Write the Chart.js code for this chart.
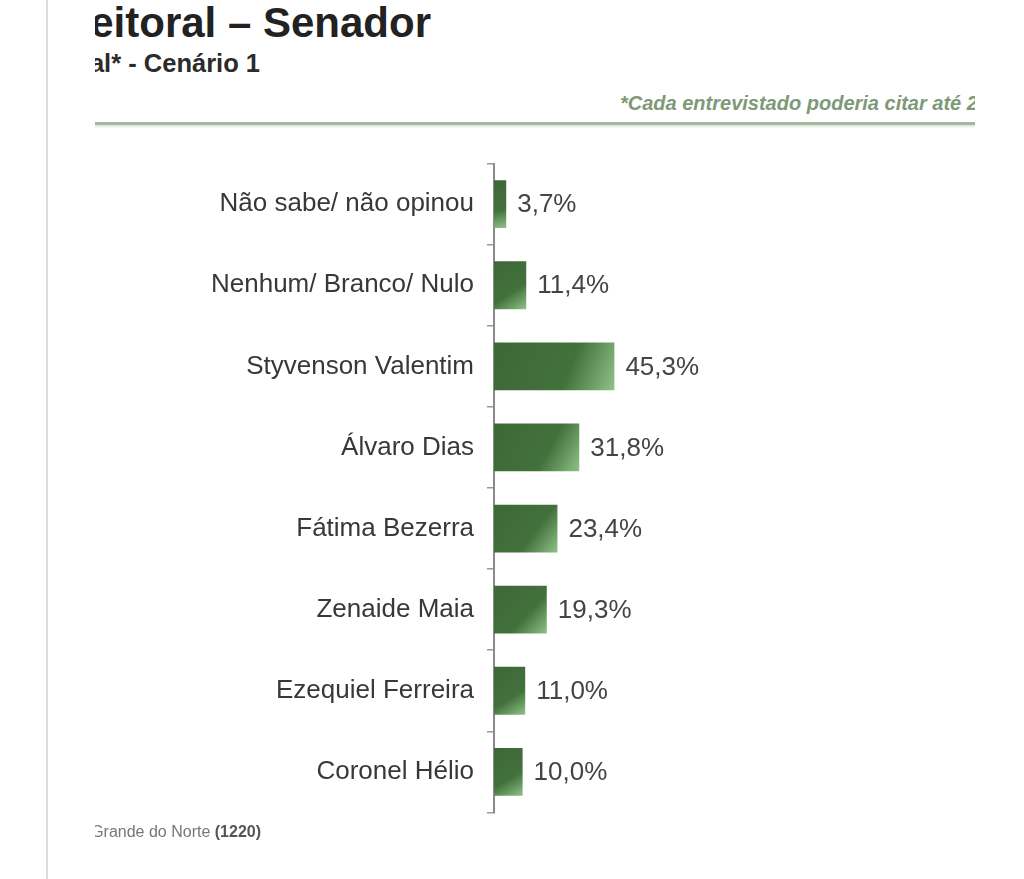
<!DOCTYPE html>
<html lang="pt-BR">
<head>
<meta charset="utf-8">
<title>Pesquisa Eleitoral – Senador</title>
<script src="https://cdn.jsdelivr.net/npm/chart.js@4/dist/chart.umd.min.js"></script>
<style>
  html, body { margin: 0; padding: 0; background: #fff; }
  body { width: 1024px; height: 879px; position: relative; overflow: hidden; font-family: "Liberation Sans", Arial, sans-serif; }
  .edge { position: absolute; left: 46px; top: 0; width: 2px; height: 879px; background: #dcdcdc; }
  .clip { position: absolute; overflow: hidden; white-space: nowrap; }
  .clip span { position: absolute; top: 0; line-height: 1; }
  #title { left: 95px; top: 2px; width: 336px; height: 48px; }
  #title span { right: 0; font-size: 42px; font-weight: bold; color: #222; }
  #subtitle { left: 95px; top: 51px; width: 165px; height: 30px; }
  #subtitle span { right: 0; font-size: 25.5px; font-weight: bold; color: #2b2b2b; }
  #note { left: 560px; top: 93px; width: 415px; height: 26px; }
  #note span { left: 60px; font-size: 20px; font-weight: bold; font-style: italic; color: #7e9978; }
  .rule { position: absolute; left: 95px; top: 122px; width: 880px; height: 3px; background: #a4b89f; box-shadow: 0 2px 2px rgba(160, 185, 155, 0.35); }
  #source { left: 95px; top: 824px; width: 166px; height: 20px; }
  #source span { right: 0; font-size: 16px; color: #777; }
  #source b { color: #555; }
  #chart { position: absolute; left: 95px; top: 135px; }
</style>
</head>
<body>
<div class="edge"></div>
<div class="clip" id="title"><span>Pesquisa Eleitoral – Senador</span></div>
<div class="clip" id="subtitle"><span>Voto Nominal* - Cenário 1</span></div>
<div class="clip" id="note"><span>*Cada entrevistado poderia citar até 2 nomes</span></div>
<div class="rule"></div>
<canvas id="chart" width="880" height="706" style="width:880px;height:706px"></canvas>
<div class="clip" id="source"><span>Base: Eleitores do Rio Grande do Norte <b>(1220)</b></span></div>

<script>
const categories = [
  "Não sabe/ não opinou",
  "Nenhum/ Branco/ Nulo",
  "Styvenson Valentim",
  "Álvaro Dias",
  "Fátima Bezerra",
  "Zenaide Maia",
  "Ezequiel Ferreira",
  "Coronel Hélio",
];
const percentages = [3.7, 11.4, 45.3, 31.8, 23.4, 19.3, 11.0, 10.0];
const valueLabels = percentages.map((v) => `${v.toFixed(1).replace(".", ",")}%`);

const labelFont = "'Liberation Sans', Arial, sans-serif";

const barFill = (context) => {
  const chart = context.chart;
  const xs = chart.scales.x;
  const ys = chart.scales.y;
  if (!chart.chartArea || !xs || !ys || context.dataIndex === undefined) {
    return "#426f3c";
  }
  const value = percentages[context.dataIndex];
  const x0 = xs.getPixelForValue(xs.min);
  const x1 = xs.getPixelForValue(value);
  const yc = ys.getPixelForValue(context.dataIndex);
  const gradient = chart.ctx.createLinearGradient(x0, yc - 24, x1, yc + 24);
  gradient.addColorStop(0, "#3c6836");
  gradient.addColorStop(0.62, "#43713c");
  gradient.addColorStop(1, "#8fc288");
  return gradient;
};

const valueLabelPlugin = {
  id: "valueLabels",
  afterDatasetsDraw(chart) {
    const { ctx } = chart;
    const meta = chart.getDatasetMeta(0);
    ctx.save();
    ctx.font = `26px ${labelFont}`;
    ctx.fillStyle = "#444";
    ctx.textAlign = "left";
    ctx.textBaseline = "middle";
    meta.data.forEach((bar, i) => {
      ctx.fillText(valueLabels[i], bar.x + 11, bar.y + 1);
    });
    ctx.restore();
  },
};

const config = {
  type: "bar",
  data: {
    labels: categories,
    datasets: [
      {
        data: percentages,
        base: -1,
        backgroundColor: barFill,
        borderWidth: 0,
        barPercentage: 0.59,
        categoryPercentage: 1,
      },
    ],
  },
  options: {
    indexAxis: "y",
    responsive: false,
    devicePixelRatio: 1,
    animation: false,
    layout: { padding: 0 },
    plugins: {
      legend: { display: false },
      tooltip: { enabled: false },
    },
    scales: {
      x: {
        display: false,
        min: -1,
        max: 184,
      },
      y: {
        afterFit: (scale) => {
          scale.width = 399;
        },
        grid: {
          offset: true,
          drawOnChartArea: false,
          drawTicks: true,
          tickLength: 7,
          color: "#9a9a9a",
          lineWidth: 1.5,
        },
        border: { display: true, color: "#8a8a8a", width: 2 },
        ticks: {
          color: "#383838",
          padding: 13,
          font: { family: labelFont, size: 26 },
        },
      },
    },
  },
  plugins: [valueLabelPlugin],
};

new Chart(document.getElementById("chart"), config);
</script>
</body>
</html>
